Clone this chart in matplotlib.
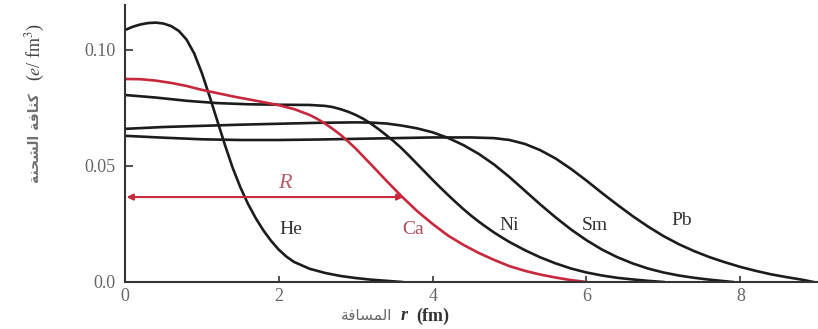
import matplotlib.pyplot as plt

plt.rcParams['font.family'] = ['Liberation Serif', 'DejaVu Sans']
plt.rcParams['mathtext.fontset'] = 'stix'

# charge density profiles, r in fm, rho in e/fm^3
he_r = [0.0, 0.1, 0.2, 0.3, 0.4, 0.5, 0.6, 0.7, 0.8, 0.9, 1.0, 1.1, 1.2, 1.3,
        1.4, 1.5, 1.6, 1.7, 1.8, 1.9, 2.0, 2.1, 2.2, 2.4, 2.6, 2.8, 3.0, 3.2,
        3.4, 3.6]
he_rho = [0.1086, 0.1100, 0.1110, 0.1116, 0.1118, 0.1114, 0.1103, 0.1082,
          0.1045, 0.0985, 0.0900, 0.0800, 0.0695, 0.0590, 0.0492, 0.0408,
          0.0336, 0.0275, 0.0222, 0.0177, 0.0139, 0.0109, 0.0086, 0.0057,
          0.0039, 0.0026, 0.0017, 0.0010, 0.0005, 0.0]

ca_r = [0.0, 0.2, 0.4, 0.6, 0.8, 1.0, 1.4, 1.8, 2.0, 2.2, 2.4, 2.5, 2.6, 2.7,
        2.8, 2.9, 3.0, 3.2, 3.4, 3.6, 3.8, 4.0, 4.2, 4.4, 4.6, 4.8, 5.0, 5.2,
        5.4, 5.6, 5.8, 6.0]
ca_rho = [0.0875, 0.0874, 0.0868, 0.0858, 0.0845, 0.0828, 0.0800, 0.0775,
          0.0762, 0.0745, 0.0720, 0.0703, 0.0683, 0.0660, 0.0635, 0.0606,
          0.0575, 0.0506, 0.0436, 0.0368, 0.0305, 0.0250, 0.0200, 0.0160,
          0.0125, 0.0095, 0.0068, 0.0048, 0.0032, 0.0019, 0.0008, 0.0]

ni_r = [0.0, 0.4, 0.8, 1.2, 1.6, 2.0, 2.4, 2.6, 2.7, 2.8, 2.9, 3.0, 3.1, 3.2,
        3.3, 3.4, 3.5, 3.6, 3.7, 3.8, 3.9, 4.0, 4.1, 4.2, 4.3, 4.4, 4.5, 4.6,
        4.7, 4.8, 4.9, 5.0, 5.2, 5.4, 5.6, 5.8, 6.0, 6.2, 6.4, 6.6, 6.8, 7.0]
ni_rho = [0.0806, 0.0795, 0.0781, 0.0771, 0.0766, 0.0764, 0.0763, 0.0759,
          0.0754, 0.0745, 0.0734, 0.0720, 0.0703, 0.0682, 0.0658, 0.0632,
          0.0605, 0.0575, 0.0542, 0.0508, 0.0474, 0.0440, 0.0407, 0.0375,
          0.0344, 0.0314, 0.0286, 0.0260, 0.0236, 0.0213, 0.0192, 0.0172,
          0.0137, 0.0106, 0.0080, 0.0058, 0.0041, 0.0028, 0.0018, 0.0011,
          0.0005, 0.0]

sm_r = [0.0, 0.5, 1.0, 1.5, 2.0, 2.5, 3.0, 3.2, 3.4, 3.6, 3.8, 4.0, 4.2, 4.4,
        4.6, 4.8, 5.0, 5.2, 5.4, 5.6, 5.8, 6.0, 6.2, 6.4, 6.6, 6.8, 7.0, 7.2,
        7.4, 7.6, 7.9]
sm_rho = [0.0660, 0.0668, 0.0673, 0.0678, 0.0682, 0.0686, 0.0688, 0.0687,
          0.0683, 0.0674, 0.0662, 0.0645, 0.0621, 0.0590, 0.0552, 0.0506,
          0.0452, 0.0393, 0.0334, 0.0278, 0.0226, 0.0180, 0.0140, 0.0107,
          0.0080, 0.0058, 0.0041, 0.0028, 0.0018, 0.0010, 0.0]

pb_r = [0.0, 0.5, 1.0, 1.5, 2.0, 2.5, 3.0, 3.5, 4.0, 4.5, 4.8, 5.0, 5.2, 5.4,
        5.6, 5.8, 6.0, 6.2, 6.4, 6.6, 6.8, 7.0, 7.2, 7.4, 7.6, 7.8, 8.0, 8.2,
        8.4, 8.6, 8.8, 8.95]
pb_rho = [0.0630, 0.0622, 0.0615, 0.0612, 0.0612, 0.0614, 0.0617, 0.0620,
          0.0623, 0.0623, 0.0620, 0.0612, 0.0595, 0.0568, 0.0532, 0.0487,
          0.0437, 0.0384, 0.0333, 0.0284, 0.0239, 0.0198, 0.0163, 0.0133,
          0.0107, 0.0085, 0.0065, 0.0048, 0.0033, 0.0021, 0.0010, 0.0]

# nucleus labels: (name, r, rho)
labels = [('He', 2.16, 0.0228), ('Ca', 3.74, 0.0228), ('Ni', 5.0, 0.0245),
          ('Sm', 6.11, 0.0245), ('Pb', 7.24, 0.0265)]
R_level = 0.0366
R_end = 3.62

xticks = [0, 2, 4, 6, 8]
yticks = [0.0, 0.05, 0.10]
ytick_labels = ['0.0', '0.05', '0.10']

# arabic strings in presentation forms, visual order
x_label_ar = '\uFE94\uFED3\uFE8E\uFEB4\uFEE4\uFEDF\uFE8D'
y_label_ar = '\uFE94\uFEE8\uFEA4\uFEB8\uFEDF\uFE8D \uFE94\uFED3\uFE8E\uFE9C\uFEDB'

black = '#1c1c1c'
red = '#c8283c'

fig = plt.figure(figsize=(8.18, 3.29), dpi=100)
ax = fig.add_axes([0.1528, 0.1429, 0.8472, 0.842])

for r, rho in [(he_r, he_rho), (ni_r, ni_rho), (sm_r, sm_rho), (pb_r, pb_rho)]:
    ax.plot(r, rho, color=black, lw=1.9, solid_joinstyle='round')
ax.plot(ca_r, ca_rho, color=red, lw=1.9, solid_joinstyle='round')

for name, r, rho in labels:
    c = '#b04a5a' if name == 'Ca' else '#333333'
    ax.text(r, rho, name, fontsize=14, color=c, ha='center', va='center')

ax.annotate('', xy=(R_end, R_level), xytext=(0.02, R_level),
            arrowprops=dict(arrowstyle='<|-|>', color=red, lw=1.5,
                            mutation_scale=9, shrinkA=0, shrinkB=0))
ax.text(2.08, 0.0425, 'R', fontsize=16, style='italic', color='#b5606a',
        ha='center', va='center')

ax.set_xlim(0, 9.01)
ax.set_ylim(0, 0.1194)
ax.set_xticks(xticks)
ax.set_yticks(yticks)
ax.set_yticklabels(ytick_labels)
ax.tick_params(axis='x', direction='in', length=4, width=1.3, colors='#444444',
               labelcolor='#666666', labelsize=13, pad=4)
ax.tick_params(axis='y', direction='in', length=6, width=1.3, colors='#444444',
               labelcolor='#666666', labelsize=13, pad=7)
for s in ['top', 'right']:
    ax.spines[s].set_visible(False)
for s in ['left', 'bottom']:
    ax.spines[s].set_color('#333333')
    ax.spines[s].set_linewidth(1.5)

# axis titles
fig.text(392 / 818, 1 - 316 / 329, x_label_ar, fontsize=11, color='#666666',
         ha='right', va='center', family=['DejaVu Sans'])
fig.text(401 / 818, 1 - 316 / 329, 'r', fontsize=13, color='#333333',
         style='italic', weight='bold', ha='left', va='center')
fig.text(416 / 818, 1 - 316 / 329, '(fm)', fontsize=13, color='#333333',
         weight='bold', ha='left', va='center')
fig.text(35 / 818, 1 - 52 / 329, '($e$/ fm$^3$)', fontsize=13, color='#444444',
         rotation=90, ha='center', va='center')
fig.text(35 / 818, 1 - 138 / 329, y_label_ar, fontsize=10, color='#707070',
         rotation=90, ha='center', va='center', family=['DejaVu Sans'],
         weight='bold')

fig.savefig('out.png', dpi=100)
